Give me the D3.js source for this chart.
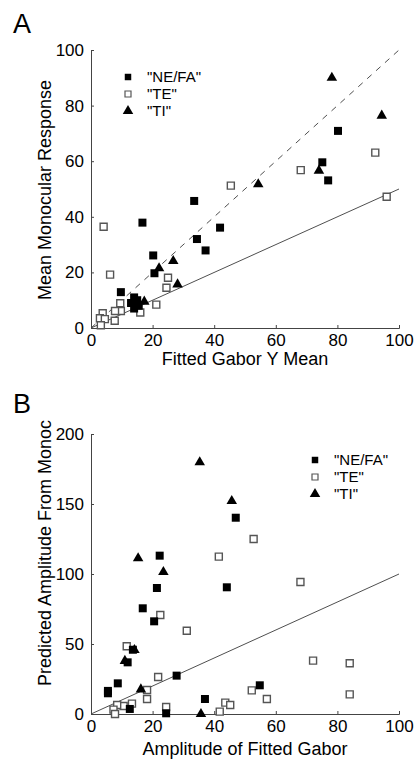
<!DOCTYPE html>
<html>
<head>
<meta charset="utf-8">
<script src="https://cdn.jsdelivr.net/npm/d3@7"></script>
<style>
  body { margin: 0; background: #fff; }
  text { font-family: "Liberation Sans", Arial, sans-serif; fill: #000; }
</style>
</head>
<body>
<script>
// Panel A: Fitted Gabor Y Mean vs Mean Monocular Response
const aNeFa = [[80.2,70.9],[75.1,59.6],[77.0,53.1],[41.9,36.1],[33.5,45.7],[16.7,37.9],
  [34.4,32.0],[37.2,27.9],[20.2,26.1],[20.6,19.7],[9.7,12.9],
  [13,9],[14,11],[15,10],[14,7],[15.5,8]];
const aTe = [[92.3,63.1],[68.1,56.8],[45.4,51.2],[96.0,47.2],[4.1,36.4],[6.2,19.2],
  [25.0,18.1],[24.5,14.5],[21.2,8.4],[16.0,5.6],[9.7,6.1],[9.5,8.9],[7.8,6.1],
  [7.7,2.6],[3.8,5.3],[2.9,3.5],[4.5,3.2],[3.2,1.0]];
const aTi = [[78.2,90.0],[94.4,76.4],[74.0,56.6],[54.3,51.7],[26.7,24.1],[22.1,21.5],
  [28.1,15.7],[17.3,9.5]];
const aTicksX = [0,20,40,60,80,100];
const aTicksY = [0,20,40,60,80,100];

// Panel B: Amplitude of Fitted Gabor vs Predicted Amplitude From Monoc
const bNeFa = [[47.0,140.2],[22.3,113.1],[44.1,90.5],[21.4,90],[16.8,75.5],[20.5,66.2],
  [13.6,45.9],[11.9,36.9],[8.7,21.9],[5.5,16.5],[5.5,14.8],[27.8,27.4],[54.8,20.5],
  [37.0,10.7],[12.6,3.6],[24.4,0.5]];
const bTe = [[52.8,125],[41.5,112.4],[68.0,94.3],[22.5,70.7],[31.1,59.5],[11.6,48.4],
  [72.1,38.1],[84.0,36.2],[21.8,26.4],[18.2,17.1],[18.2,10.7],[52.2,16.9],[57.1,10.7],
  [84.0,14.0],[43.6,8.1],[45.2,6.4],[41.8,1.7],[24.4,5.0],[13.3,7.4],[10.6,5.7],
  [8.5,6.4],[7.3,3.1],[7.8,0]];
const bTi = [[35.3,179.8],[45.7,152.1],[15.3,111.2],[23.5,101.4],[14.1,45.7],[11.0,37.9],
  [16.2,17.6],[35.7,0]];
const bTicksX = [0,20,40,60,80,100];
const bTicksY = [0,50,100,150,200];

const legendNames = ['"NE/FA"', '"TE"', '"TI"'];

const svg = d3.select('body').append('svg')
  .attr('width', 417).attr('height', 763);

function drawPanel(o) {
  const x = d3.scaleLinear().domain([0, 100]).range([91, 399]);
  const y = d3.scaleLinear().domain(o.yDomain).range([o.y0, o.y1]);
  const g = svg.append('g');

  // reference lines
  o.lines.forEach(l => {
    g.append('line')
      .attr('x1', x(0)).attr('y1', y(0))
      .attr('x2', x(100)).attr('y2', y(100 * l.slope))
      .attr('stroke', '#222').attr('stroke-width', 0.8)
      .attr('stroke-dasharray', l.dash ? '6,6' : null);
  });

  // axes
  const xAxis = d3.axisBottom(x).tickValues(o.xTicks).tickSize(-3).tickPadding(5);
  const yAxis = d3.axisLeft(y).tickValues(o.yTicks).tickSize(-3).tickPadding(7);
  const gx = g.append('g').attr('transform', `translate(0,${o.y0})`).call(xAxis);
  const gy = g.append('g').attr('transform', 'translate(91,0)').call(yAxis);
  [gx, gy].forEach(a => {
    a.select('.domain').attr('stroke', '#444').attr('stroke-width', 1);
    a.selectAll('.tick line').attr('stroke', '#444');
    a.selectAll('text').attr('font-size', 17).attr('font-family', '"Liberation Sans", Arial, sans-serif').attr('fill', '#000');
  });
  gx.selectAll('text').attr('dy', '0.76em');

  // points
  const sq = d3.symbol().type(d3.symbolSquare).size(64);
  const tri = d3.symbol().type(d3.symbolTriangle).size(48);
  g.selectAll('.te').data(o.te).join('path')
    .attr('d', d3.symbol().type(d3.symbolSquare).size(49))
    .attr('transform', d => `translate(${x(d[0])},${y(d[1])})`)
    .attr('fill', '#fff').attr('stroke', '#555').attr('stroke-width', 1.4);
  g.selectAll('.ne').data(o.ne).join('path')
    .attr('d', sq)
    .attr('transform', d => `translate(${x(d[0])},${y(d[1])})`)
    .attr('fill', '#000');
  g.selectAll('.ti').data(o.ti).join('path')
    .attr('d', tri)
    .attr('transform', d => `translate(${x(d[0])},${y(d[1])})`)
    .attr('fill', '#000');

  // legend
  const lg = g.append('g');
  legendNames.forEach((name, i) => {
    const ly = o.legY + i * 17;
    if (i === 0) lg.append('path').attr('d', d3.symbol().type(d3.symbolSquare).size(42)())
      .attr('transform', `translate(${o.legX},${ly})`).attr('fill', '#000');
    if (i === 1) lg.append('path').attr('d', d3.symbol().type(d3.symbolSquare).size(36)())
      .attr('transform', `translate(${o.legX},${ly})`).attr('fill', '#fff').attr('stroke', '#555').attr('stroke-width', 1.2);
    if (i === 2) lg.append('path').attr('d', tri())
      .attr('transform', `translate(${o.legX},${ly})`).attr('fill', '#000');
    lg.append('text').attr('x', o.legX + 19).attr('y', ly).attr('dy', '0.35em')
      .attr('font-size', 15).text(name);
  });

  // labels
  g.append('text').attr('x', 245).attr('y', o.xLabelY)
    .attr('text-anchor', 'middle').attr('font-size', 18).text(o.xLabel);
  g.append('text')
    .attr('transform', `translate(51,${o.yLabelCY}) rotate(-90)`)
    .attr('text-anchor', 'middle').attr('font-size', 18).text(o.yLabel);
  g.append('text').attr('x', 13).attr('y', o.letterY)
    .attr('font-size', 27).text(o.letter);
}

drawPanel({
  yDomain: [0, 100], y0: 328, y1: 50,
  xTicks: aTicksX, yTicks: aTicksY,
  ne: aNeFa, te: aTe, ti: aTi,
  lines: [{slope: 1, dash: true}, {slope: 0.5, dash: false}],
  legX: 128, legY: 77,
  xLabel: 'Fitted Gabor Y Mean', xLabelY: 365,
  yLabel: 'Mean Monocular Response', yLabelCY: 190,
  letter: 'A', letterY: 33
});

drawPanel({
  yDomain: [0, 200], y0: 714, y1: 434,
  xTicks: bTicksX, yTicks: bTicksY,
  ne: bNeFa, te: bTe, ti: bTi,
  lines: [{slope: 1, dash: false}],
  legX: 315, legY: 460,
  xLabel: 'Amplitude of Fitted Gabor', xLabelY: 755,
  yLabel: 'Predicted Amplitude From Monoc', yLabelCY: 553,
  letter: 'B', letterY: 413
});
</script>
</body>
</html>
